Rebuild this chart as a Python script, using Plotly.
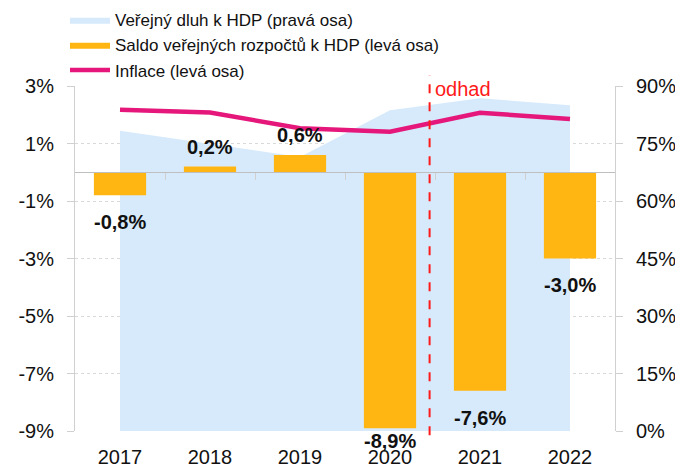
import plotly.graph_objects as go

# ---- data ----
YEARS = ["2017", "2018", "2019", "2020", "2021", "2022"]
DEBT = [78.3, 74.9, 71.5, 83.7, 86.8, 85.0]          # right axis, % (area)
BALANCE = [-0.8, 0.2, 0.6, -8.9, -7.6, -3.0]           # left axis, % (bars)
INFLATION = [2.17, 2.08, 1.53, 1.41, 2.07, 1.85]      # left axis, % (line)
LEFT_TICKS = [-9, -7, -5, -3, -1, 1, 3]
RIGHT_TICKS = [0, 15, 30, 45, 60, 75, 90]
FORECAST_POS = 3.44   # between 2020 and 2021 (category index)
NAMES = ["Veřejný dluh k HDP (pravá osa)",
         "Saldo veřejných rozpočtů k HDP (levá osa)",
         "Inflace (levá osa)"]

FONT = "Liberation Sans, Arial, sans-serif"
TXT = "#111111"
AX = "#D0D0D0"
C_AREA = "#D6EAFB"
C_BAR = "#FFB612"
C_LINE = "#E5177B"

def pct(v):
    return (f"{v:.1f}".replace(".", ",")) + "%"

fig = go.Figure()

fig.add_trace(go.Scatter(
    x=YEARS, y=DEBT, name=NAMES[0], mode="lines", yaxis="y",
    fill="tozeroy", fillcolor=C_AREA, line=dict(width=0, color=C_AREA),
))
fig.add_trace(go.Bar(
    x=YEARS, y=BALANCE, name=NAMES[1], yaxis="y2", showlegend=False,
    legendgroup="bal", marker=dict(color=C_BAR, line=dict(width=0)), width=0.58,
))
# legend proxy for the bars (wide swatch like the original)
fig.add_trace(go.Scatter(
    x=[None], y=[None], name=NAMES[1], mode="lines", yaxis="y2",
    legendgroup="bal", fill="tozeroy", fillcolor=C_BAR,
    line=dict(width=0, color=C_BAR), hoverinfo="skip",
))
fig.add_trace(go.Scatter(
    x=YEARS, y=INFLATION, name=NAMES[2], mode="lines", yaxis="y2",
    line=dict(color=C_LINE, width=4.5),
))
# helper trace for zero-line category axis
fig.add_trace(go.Scatter(
    x=[0, len(YEARS) - 1], y=[0, 0], xaxis="x2", yaxis="y2", mode="lines",
    line=dict(width=0), showlegend=False, hoverinfo="skip",
))

# data labels (x given as category index)
ymin = LEFT_TICKS[0]
for i, v in enumerate(BALANCE):
    if v >= 0:
        fig.add_annotation(x=i, y=v, xref="x", yref="y2", text="<b>" + pct(v) + "</b>",
                           showarrow=False, yanchor="bottom", yshift=7,
                           font=dict(family=FONT, size=20, color=TXT))
    else:
        ylab = max(v - 0.55, ymin + 0.05)
        fig.add_annotation(x=i, y=ylab, xref="x", yref="y2", text="<b>" + pct(v) + "</b>",
                           showarrow=False, yanchor="top", yshift=2,
                           font=dict(family=FONT, size=20, color=TXT))

# forecast line and label
fig.add_shape(type="line", xref="x", yref="paper", x0=FORECAST_POS, x1=FORECAST_POS,
              y0=-0.012, y1=1.032, line=dict(color="#FF1A1A", width=2, dash="dash"))
fig.add_annotation(x=FORECAST_POS, y=0.99, xref="x", yref="paper", text="odhad",
                   showarrow=False, xanchor="left", yanchor="middle", xshift=3,
                   font=dict(family=FONT, size=20, color="#FF1A1A"))

# page has an 8px body margin -> figure is 8px smaller and offset
fig.update_layout(
    width=675, height=460,
    margin=dict(l=67, r=68, t=78, b=37, autoexpand=False),
    paper_bgcolor="white", plot_bgcolor="white",
    font=dict(family=FONT, color=TXT),
    showlegend=True,
    legend=dict(x=-0.0185, y=1.243, xanchor="left", yanchor="top",
                font=dict(family=FONT, size=17, color=TXT),
                bgcolor="rgba(0,0,0,0)", traceorder="normal",
                itemwidth=40, tracegroupgap=0),
    bargap=0.42,
    xaxis=dict(type="category", categoryorder="array", categoryarray=YEARS,
               range=[-0.5, len(YEARS) - 0.5], showgrid=False, showline=False,
               ticks="", tickfont=dict(size=20, color=TXT), ticklabelstandoff=12,
               zeroline=False),
    xaxis2=dict(overlaying="x", anchor="free", position=0.75, type="linear",
                range=[-0.5, len(YEARS) - 0.5],
                tickvals=[i + 0.5 for i in range(len(YEARS) - 1)],
                showticklabels=False, ticks="outside", ticklen=7, tickcolor=AX,
                showline=True, linecolor="#BFBFBF", linewidth=1,
                showgrid=False, zeroline=False),
    yaxis=dict(side="right", range=[RIGHT_TICKS[0], RIGHT_TICKS[-1]],
               tickvals=RIGHT_TICKS, ticktext=[f"{v}%" for v in RIGHT_TICKS],
               showgrid=True, gridcolor="#D9D9D9", griddash="dot",
               showline=True, linecolor=AX, ticks="outside", ticklen=7,
               tickcolor=AX, tickfont=dict(size=20, color=TXT),
               ticklabelstandoff=9, zeroline=False),
    yaxis2=dict(side="left", overlaying="y", range=[LEFT_TICKS[0], LEFT_TICKS[-1]],
                tickvals=LEFT_TICKS, ticktext=[f"{v}%" for v in LEFT_TICKS],
                showgrid=False, showline=True, linecolor=AX, ticks="outside",
                ticklen=7, tickcolor=AX, tickfont=dict(size=20, color=TXT),
                ticklabelstandoff=9, zeroline=False),
)

fig.write_html("out.html")
